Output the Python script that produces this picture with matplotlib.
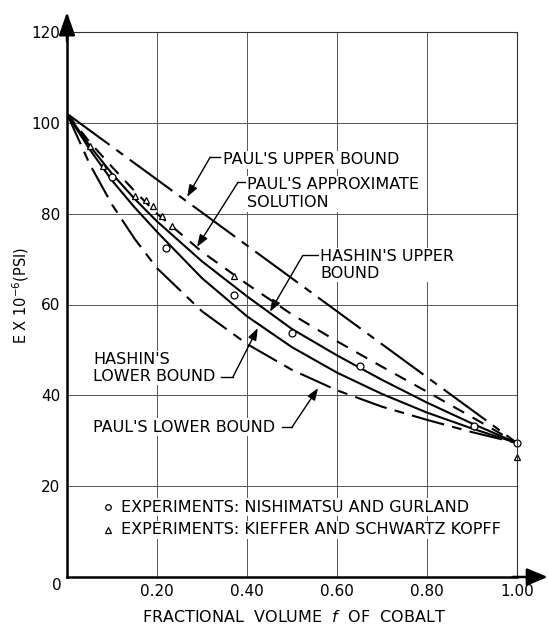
import matplotlib.pyplot as plt

plt.rcParams['font.family'] = 'DejaVu Sans'
plt.rcParams['lines.scale_dashes'] = False

# curve values (E x 10^-6 psi vs fractional volume of cobalt)
f_line = [0.0, 1.0]
paul_upper = [102.0, 29.5]

f_curve = [0, 0.05, 0.1, 0.15, 0.2, 0.3, 0.4, 0.5, 0.6, 0.7, 0.8, 0.9, 1.0]
paul_approx = [102, 95.8, 90.3, 85.0, 80.0, 71.6, 64.5, 57.8, 51.9, 46.3, 40.8, 35.2, 29.5]
hashin_upper = [102, 95.0, 88.8, 83.3, 78.3, 69.5, 61.8, 54.6, 48.8, 43.4, 38.4, 33.8, 29.5]
hashin_lower = [102, 94.2, 87.3, 81.4, 76.0, 65.8, 57.4, 50.6, 45.0, 40.3, 36.2, 32.7, 29.5]
paul_lower = [102, 91.0, 82.0, 74.5, 68.0, 58.5, 51.3, 45.6, 41.1, 37.5, 34.6, 31.9, 29.5]

# experiments
nish_f = [0.10, 0.22, 0.37, 0.50, 0.65, 0.905, 1.0]
nish_E = [88.0, 72.5, 62.0, 53.7, 46.5, 33.2, 29.5]
kief_f = [0.05, 0.08, 0.15, 0.175, 0.19, 0.21, 0.233, 0.37, 1.0]
kief_E = [94.8, 90.5, 84.0, 83.0, 81.6, 79.4, 77.2, 66.3, 26.4]

x_ticks = [0.2, 0.4, 0.6, 0.8, 1.0]
x_labels = ['0.20', '0.40', '0.60', '0.80', '1.00']
y_ticks = [20, 40, 60, 80, 100, 120]

fig = plt.figure(figsize=(5.48, 6.26), dpi=100)
ax = fig.add_axes([67/548, 49/626, 450/548, 545/626])

ax.set_xlim(0, 1)
ax.set_ylim(0, 120)
ax.set_xticks(x_ticks)
ax.set_xticklabels(x_labels)
ax.set_yticks(y_ticks)
ax.tick_params(length=0, labelsize=11, pad=5)
ax.grid(True, color='#555555', lw=0.7)

for s in ['top', 'right']:
    ax.spines[s].set_linewidth(0.8)
    ax.spines[s].set_color('#333333')
for s in ['left', 'bottom']:
    ax.spines[s].set_linewidth(1.8)

# arrow heads on the axes
ax.annotate('', xy=(0, 124.4), xytext=(0, 118), annotation_clip=False,
            arrowprops=dict(arrowstyle='-|>,head_length=1.0,head_width=0.35',
                            color='k', lw=1.8, mutation_scale=14, shrinkA=0, shrinkB=0))
ax.annotate('', xy=(1.068, 0), xytext=(0.99, 0), annotation_clip=False,
            arrowprops=dict(arrowstyle='-|>,head_length=0.9,head_width=0.38',
                            color='k', lw=1.8, mutation_scale=14, shrinkA=0, shrinkB=0))

lw = 1.5
ax.plot(f_line, paul_upper, color='k', lw=lw, dashes=(38, 6, 6, 6))
ax.plot(f_curve, paul_approx, color='k', lw=lw, dashes=(9, 7))
ax.plot(f_curve, hashin_upper, color='k', lw=lw)
ax.plot(f_curve, hashin_lower, color='k', lw=lw)
ax.plot(f_curve, paul_lower, color='k', lw=lw, dashes=(24, 6, 7, 6))

ax.plot(nish_f, nish_E, 'o', ms=5, mfc='white', mec='k', mew=0.9, clip_on=False)
ax.plot(kief_f, kief_E, '^', ms=5, mfc='white', mec='k', mew=0.9, clip_on=False)

box = dict(facecolor='white', edgecolor='none', pad=1)
fs = 11.5


def leader(p0, p1, tip):
    ax.plot([p0[0], p1[0]], [p0[1], p1[1]], color='k', lw=1)
    ax.annotate('', xy=tip, xytext=p1,
                arrowprops=dict(arrowstyle='-|>,head_length=0.6,head_width=0.22',
                                color='k', lw=1, mutation_scale=12, shrinkA=0, shrinkB=0))


ax.text(0.347, 91.9, "PAUL'S UPPER BOUND", fontsize=fs, va='center', bbox=box)
leader((0.340, 92.4), (0.318, 92.4), (0.267, 83.7))

ax.text(0.400, 84.4, "PAUL'S APPROXIMATE\nSOLUTION", fontsize=fs, va='center',
        linespacing=1.25, bbox=box)
leader((0.396, 86.9), (0.380, 86.9), (0.289, 72.7))

ax.text(0.563, 68.7, "HASHIN'S UPPER\nBOUND", fontsize=fs, va='center',
        linespacing=1.1, bbox=box)
leader((0.558, 70.8), (0.524, 70.8), (0.451, 58.4))

ax.text(0.058, 46.0, "HASHIN'S\nLOWER BOUND", fontsize=fs, va='center',
        linespacing=1.1, bbox=box)
leader((0.343, 44.1), (0.369, 44.1), (0.424, 54.8))

ax.text(0.058, 33.0, "PAUL'S LOWER BOUND", fontsize=fs, va='center', bbox=box)
leader((0.478, 33.0), (0.500, 33.0), (0.558, 41.6))

ax.plot([0.091], [15.4], 'o', ms=4, mfc='white', mec='k', mew=0.9)
ax.text(0.12, 15.4, 'EXPERIMENTS: NISHIMATSU AND GURLAND', fontsize=fs, va='center', bbox=box)
ax.plot([0.091], [10.4], '^', ms=4, mfc='white', mec='k', mew=0.9)
ax.text(0.12, 10.4, 'EXPERIMENTS: KIEFFER AND SCHWARTZ KOPFF', fontsize=fs, va='center', bbox=box)

fig.text(57/548, 1 - 586/626, '0', fontsize=11, ha='center', va='center')
fig.text(21/548, 1 - 295/626, 'E X 10$^{-6}$(PSI)', fontsize=10.5, rotation=90,
         ha='center', va='center')
fig.text(294/548, 1 - 617/626, 'FRACTIONAL  VOLUME  $f$  OF  COBALT', fontsize=11.5,
         ha='center', va='center')

fig.savefig('out.png', dpi=100)
